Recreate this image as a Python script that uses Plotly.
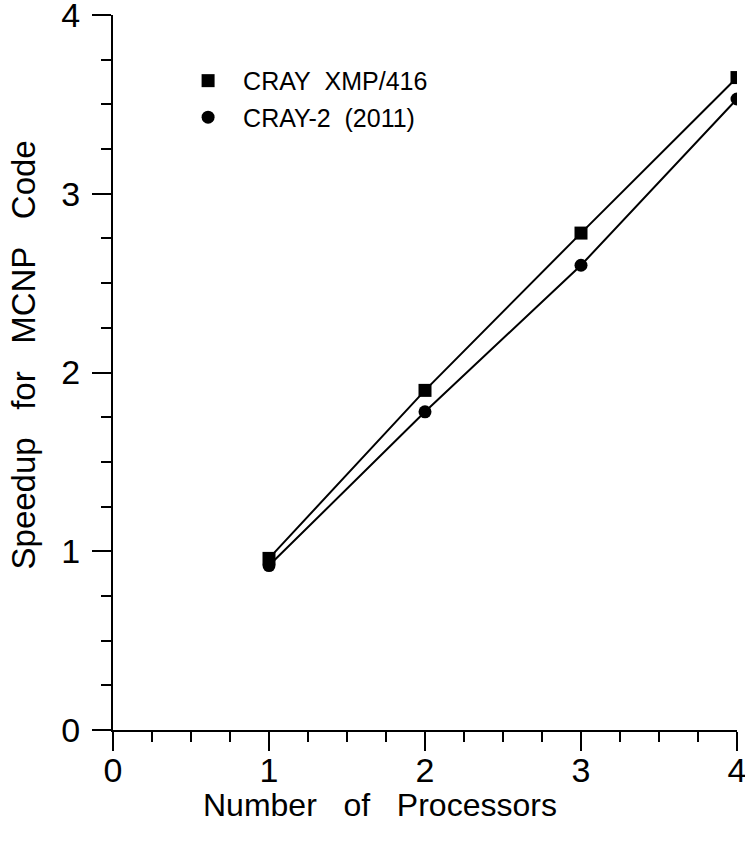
import plotly.graph_objects as go

processors = [1, 2, 3, 4]
xmp_speedup = [0.96, 1.90, 2.78, 3.65]
cray2_speedup = [0.92, 1.78, 2.60, 3.53]
tick_vals = [0, 1, 2, 3, 4]
tick_text = ["0", "1", "2", "3", "4"]
series_names = ["CRAY\u00a0 XMP/416", "CRAY-2\u00a0 (2011)"]

FONT = "Liberation Sans, Arial, Helvetica, sans-serif"
NB = "\u00a0"

fig = go.Figure()
fig.add_trace(go.Scatter(
    x=processors, y=xmp_speedup, mode="lines+markers", name=series_names[0],
    line=dict(color="black", width=2),
    marker=dict(symbol="square", size=13, color="black"),
    showlegend=False,
))
fig.add_trace(go.Scatter(
    x=processors, y=cray2_speedup, mode="lines+markers", name=series_names[1],
    line=dict(color="black", width=2),
    marker=dict(symbol="circle", size=13, color="black"),
    showlegend=False,
))
# legend entries (markers only, as in the reference)
fig.add_trace(go.Scatter(x=[None], y=[None], mode="markers", name=series_names[0],
                         marker=dict(symbol="square", size=13, color="black"),
                         legendgroup="a"))
fig.add_trace(go.Scatter(x=[None], y=[None], mode="markers", name=series_names[1],
                         marker=dict(symbol="circle", size=13, color="black"),
                         legendgroup="b"))

axis_common = dict(
    showgrid=False, zeroline=False, showline=True, linecolor="black", linewidth=2,
    ticks="outside", ticklen=19, tickwidth=2, tickcolor="black",
    tickvals=tick_vals, ticktext=tick_text,
    tickfont=dict(family=FONT, size=34, color="black"),
    minor=dict(ticks="outside", ticklen=10, tickwidth=1.5, tickcolor="black", dtick=0.25),
    automargin=False, ticklabeloverflow="allow",
)

xtitle = (NB * 3).join(["Number", "of", "Processors"])
ytitle = (NB * 3).join(["Speedup", "for", "MCNP", "Code"])

fig.update_xaxes(range=[0, 4], ticklabelstandoff=-10, **axis_common)
fig.update_yaxes(range=[0, 4], ticklabelstandoff=5, **axis_common)

fig.add_annotation(text=xtitle, xref="paper", yref="paper", x=0.428, y=-0.105,
                   xanchor="center", yanchor="middle", showarrow=False,
                   font=dict(family=FONT, size=32, color="black"))
fig.add_annotation(text=ytitle, xref="paper", yref="paper", x=-0.144, y=0.524,
                   xanchor="center", yanchor="middle", showarrow=False, textangle=-90,
                   font=dict(family=FONT, size=33, color="black"))

fig.update_layout(
    width=745, height=849,
    margin=dict(l=113, r=8, t=15, b=119),
    paper_bgcolor="white", plot_bgcolor="white",
    showlegend=True,
    legend=dict(x=0.0963, y=0.940, xanchor="left", yanchor="top",
                font=dict(family=FONT, size=25, color="black"),
                bgcolor="rgba(0,0,0,0)", itemwidth=60,
                traceorder="grouped", tracegroupgap=1),
    font=dict(family=FONT, color="black"),
)

fig.write_html("out.html", config={"displayModeBar": False},
               post_script="document.body.style.margin='0';")
